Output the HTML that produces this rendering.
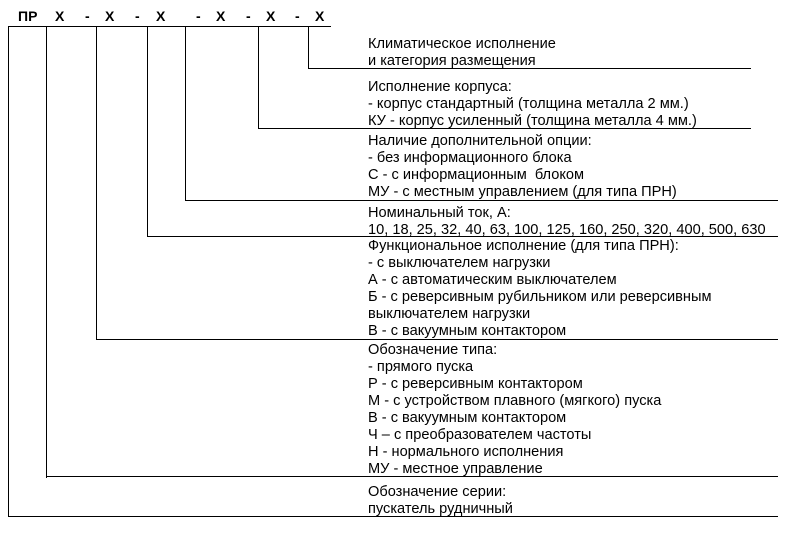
<!DOCTYPE html>
<html><head><meta charset="utf-8"><style>
body{margin:0;width:808px;height:535px;background:#fff;position:relative;overflow:hidden;font-family:"Liberation Sans",Arial,sans-serif;font-size:14.6px;color:#000}
.h{position:absolute;height:1px;background:#000}
.v{position:absolute;width:1px;background:#000}
.t{position:absolute;left:368px;line-height:17px;white-space:nowrap}
.c{position:absolute;font-weight:bold;font-size:14px;line-height:17px}
</style></head><body>
<div class="c" style="left:18px;top:8px">ПР</div>
<div class="c" style="left:55px;top:8px">X</div>
<div class="c" style="left:85px;top:8px">-</div>
<div class="c" style="left:105px;top:8px">X</div>
<div class="c" style="left:135px;top:8px">-</div>
<div class="c" style="left:156px;top:8px">X</div>
<div class="c" style="left:196px;top:8px">-</div>
<div class="c" style="left:216px;top:8px">X</div>
<div class="c" style="left:246px;top:8px">-</div>
<div class="c" style="left:266px;top:8px">X</div>
<div class="c" style="left:295px;top:8px">-</div>
<div class="c" style="left:315px;top:8px">X</div>

<div class="h" style="left:8px;top:26px;width:323px"></div>
<div class="v" style="left:8px;top:26px;height:491px"></div>
<div class="v" style="left:46px;top:26px;height:452px"></div>
<div class="v" style="left:96px;top:26px;height:314px"></div>
<div class="v" style="left:147px;top:26px;height:211px"></div>
<div class="v" style="left:185px;top:26px;height:175px"></div>
<div class="v" style="left:258px;top:26px;height:103px"></div>
<div class="v" style="left:308px;top:26px;height:43px"></div>

<div class="h" style="left:308px;top:68px;width:443px"></div>
<div class="h" style="left:258px;top:128px;width:493px"></div>
<div class="h" style="left:185px;top:200px;width:593px"></div>
<div class="h" style="left:147px;top:236px;width:631px"></div>
<div class="h" style="left:96px;top:339px;width:682px"></div>
<div class="h" style="left:46px;top:476px;width:732px"></div>
<div class="h" style="left:8px;top:516px;width:770px"></div>

<div class="t" style="top:36px">Климатическое исполнение<br>и категория размещения</div>
<div class="t" style="top:79px">Исполнение корпуса:<br>- корпус стандартный (толщина металла 2 мм.)<br>КУ - корпус усиленный (толщина металла 4 мм.)</div>
<div class="t" style="top:133px">Наличие дополнительной опции:<br>- без информационного блока<br>С - с информационным&nbsp; блоком<br>МУ - с местным управлением (для типа ПРН)</div>
<div class="t" style="top:205px">Номинальный ток, А:<br>10, 18, 25, 32, 40, 63, 100, 125, 160, 250, 320, 400, 500, 630</div>
<div class="t" style="top:238px">Функциональное исполнение (для типа ПРН):<br>- с выключателем нагрузки<br>А - с автоматическим выключателем<br>Б - с реверсивным рубильником или реверсивным<br>выключателем нагрузки<br>В - с вакуумным контактором</div>
<div class="t" style="top:342px">Обозначение типа:<br>- прямого пуска<br>Р - с реверсивным контактором<br>М - с устройством плавного (мягкого) пуска<br>В - с вакуумным контактором<br>Ч – с преобразователем частоты<br>Н - нормального исполнения<br>МУ - местное управление</div>
<div class="t" style="top:484px">Обозначение серии:<br>пускатель рудничный</div>
</body></html>
